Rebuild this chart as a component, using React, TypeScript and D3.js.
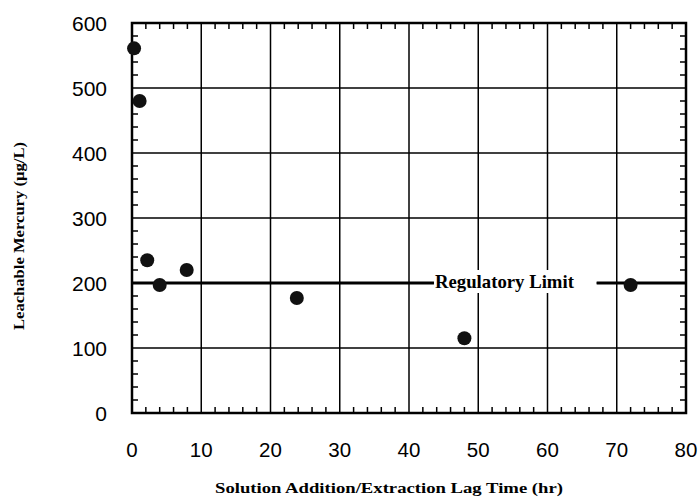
import React, { useEffect, useRef } from 'react'
import * as d3 from 'd3'

const lagTime = [0.3, 1.1, 2.2, 4, 7.9, 23.8, 48, 72]
const mercury = [561, 480, 235, 197, 220, 177, 115, 197]
const xTicks = [0, 10, 20, 30, 40, 50, 60, 70, 80]
const yTicks = [0, 100, 200, 300, 400, 500, 600]
const regulatoryLimit = 200

const W = 700
const H = 500
const margin = { top: 23, right: 14, bottom: 87, left: 132 }

export default function App() {
  const ref = useRef<SVGSVGElement>(null)

  useEffect(() => {
    const svg = d3.select(ref.current)
    svg.selectAll('*').remove()

    const x = d3.scaleLinear().domain([0, 80]).range([margin.left, W - margin.right])
    const y = d3.scaleLinear().domain([0, 600]).range([H - margin.bottom, margin.top])

    const g = svg.append('g')

    // grid
    g.selectAll('.vgrid')
      .data(xTicks.slice(1, -1))
      .enter()
      .append('line')
      .attr('x1', d => x(d)).attr('x2', d => x(d))
      .attr('y1', y(0)).attr('y2', y(600))
      .attr('stroke', '#000').attr('stroke-width', 1.5)
    g.selectAll('.hgrid')
      .data(yTicks.slice(1, -1))
      .enter()
      .append('line')
      .attr('x1', x(0)).attr('x2', x(80))
      .attr('y1', d => y(d)).attr('y2', d => y(d))
      .attr('stroke', '#000').attr('stroke-width', 1.5)

    // minor ticks, inward
    const xMinor = d3.range(0, 81, 2).filter(d => d % 10 !== 0)
    const yMinor = d3.range(0, 601, 20).filter(d => d % 100 !== 0)
    const tk = 6
    xMinor.forEach(d => {
      g.append('line').attr('x1', x(d)).attr('x2', x(d)).attr('y1', y(0)).attr('y2', y(0) - tk)
        .attr('stroke', '#000').attr('stroke-width', 1.5)
      g.append('line').attr('x1', x(d)).attr('x2', x(d)).attr('y1', y(600)).attr('y2', y(600) + tk)
        .attr('stroke', '#000').attr('stroke-width', 1.5)
    })
    yMinor.forEach(d => {
      g.append('line').attr('x1', x(0)).attr('x2', x(0) + tk).attr('y1', y(d)).attr('y2', y(d))
        .attr('stroke', '#000').attr('stroke-width', 1.5)
      g.append('line').attr('x1', x(80)).attr('x2', x(80) - tk).attr('y1', y(d)).attr('y2', y(d))
        .attr('stroke', '#000').attr('stroke-width', 1.5)
    })

    // frame
    g.append('rect')
      .attr('x', x(0)).attr('y', y(600))
      .attr('width', x(80) - x(0)).attr('height', y(0) - y(600))
      .attr('fill', 'none').attr('stroke', '#000').attr('stroke-width', 2.5)

    // regulatory limit, label sits in a white box that hides the grid
    const yl = y(regulatoryLimit)
    g.append('rect')
      .attr('x', x(43.6)).attr('y', yl - 13)
      .attr('width', x(67.1) - x(43.6)).attr('height', 23)
      .attr('fill', '#fff')
    g.append('line')
      .attr('x1', x(0)).attr('x2', x(43.6))
      .attr('y1', yl).attr('y2', yl)
      .attr('stroke', '#000').attr('stroke-width', 2.8)
    g.append('line')
      .attr('x1', x(67.1)).attr('x2', x(80))
      .attr('y1', yl).attr('y2', yl)
      .attr('stroke', '#000').attr('stroke-width', 2.8)
    g.append('text')
      .attr('x', x(43.6) + 1).attr('y', yl + 5)
      .attr('font-family', '"Liberation Serif", "Times New Roman", serif')
      .attr('font-weight', 'bold').attr('font-size', 19)
      .attr('textLength', 139).attr('lengthAdjust', 'spacingAndGlyphs')
      .text('Regulatory Limit')

    // points
    g.selectAll('circle')
      .data(lagTime)
      .enter()
      .append('circle')
      .attr('cx', d => x(d))
      .attr('cy', (d, i) => y(mercury[i]))
      .attr('r', 7)
      .attr('fill', '#111')

    // tick labels
    g.selectAll('.xl')
      .data(xTicks)
      .enter()
      .append('text')
      .attr('x', d => x(d)).attr('y', 457)
      .attr('text-anchor', 'middle')
      .attr('font-family', '"Liberation Sans", Arial, sans-serif')
      .attr('font-size', 20.5)
      .text(d => d)
    g.selectAll('.yl')
      .data(yTicks)
      .enter()
      .append('text')
      .attr('x', 107).attr('y', d => y(d) + 7.5)
      .attr('text-anchor', 'end')
      .attr('font-family', '"Liberation Sans", Arial, sans-serif')
      .attr('font-size', 21)
      .text(d => d)

    // axis titles
    g.append('text')
      .attr('x', 389).attr('y', 493)
      .attr('text-anchor', 'middle')
      .attr('font-family', '"Liberation Serif", "Times New Roman", serif')
      .attr('font-weight', 'bold').attr('font-size', 15)
      .attr('textLength', 348).attr('lengthAdjust', 'spacingAndGlyphs')
      .text('Solution Addition/Extraction Lag Time (hr)')
    g.append('text')
      .attr('transform', 'translate(24,236) rotate(-90)')
      .attr('text-anchor', 'middle')
      .attr('font-family', '"Liberation Serif", "Times New Roman", serif')
      .attr('font-weight', 'bold').attr('font-size', 14)
      .attr('textLength', 188).attr('lengthAdjust', 'spacingAndGlyphs')
      .text('Leachable Mercury (µg/L)')
  }, [])

  return (
    <svg ref={ref} width={W} height={H} style={{ position: 'absolute', left: 0, top: 0, background: '#fff' }} />
  )
}
